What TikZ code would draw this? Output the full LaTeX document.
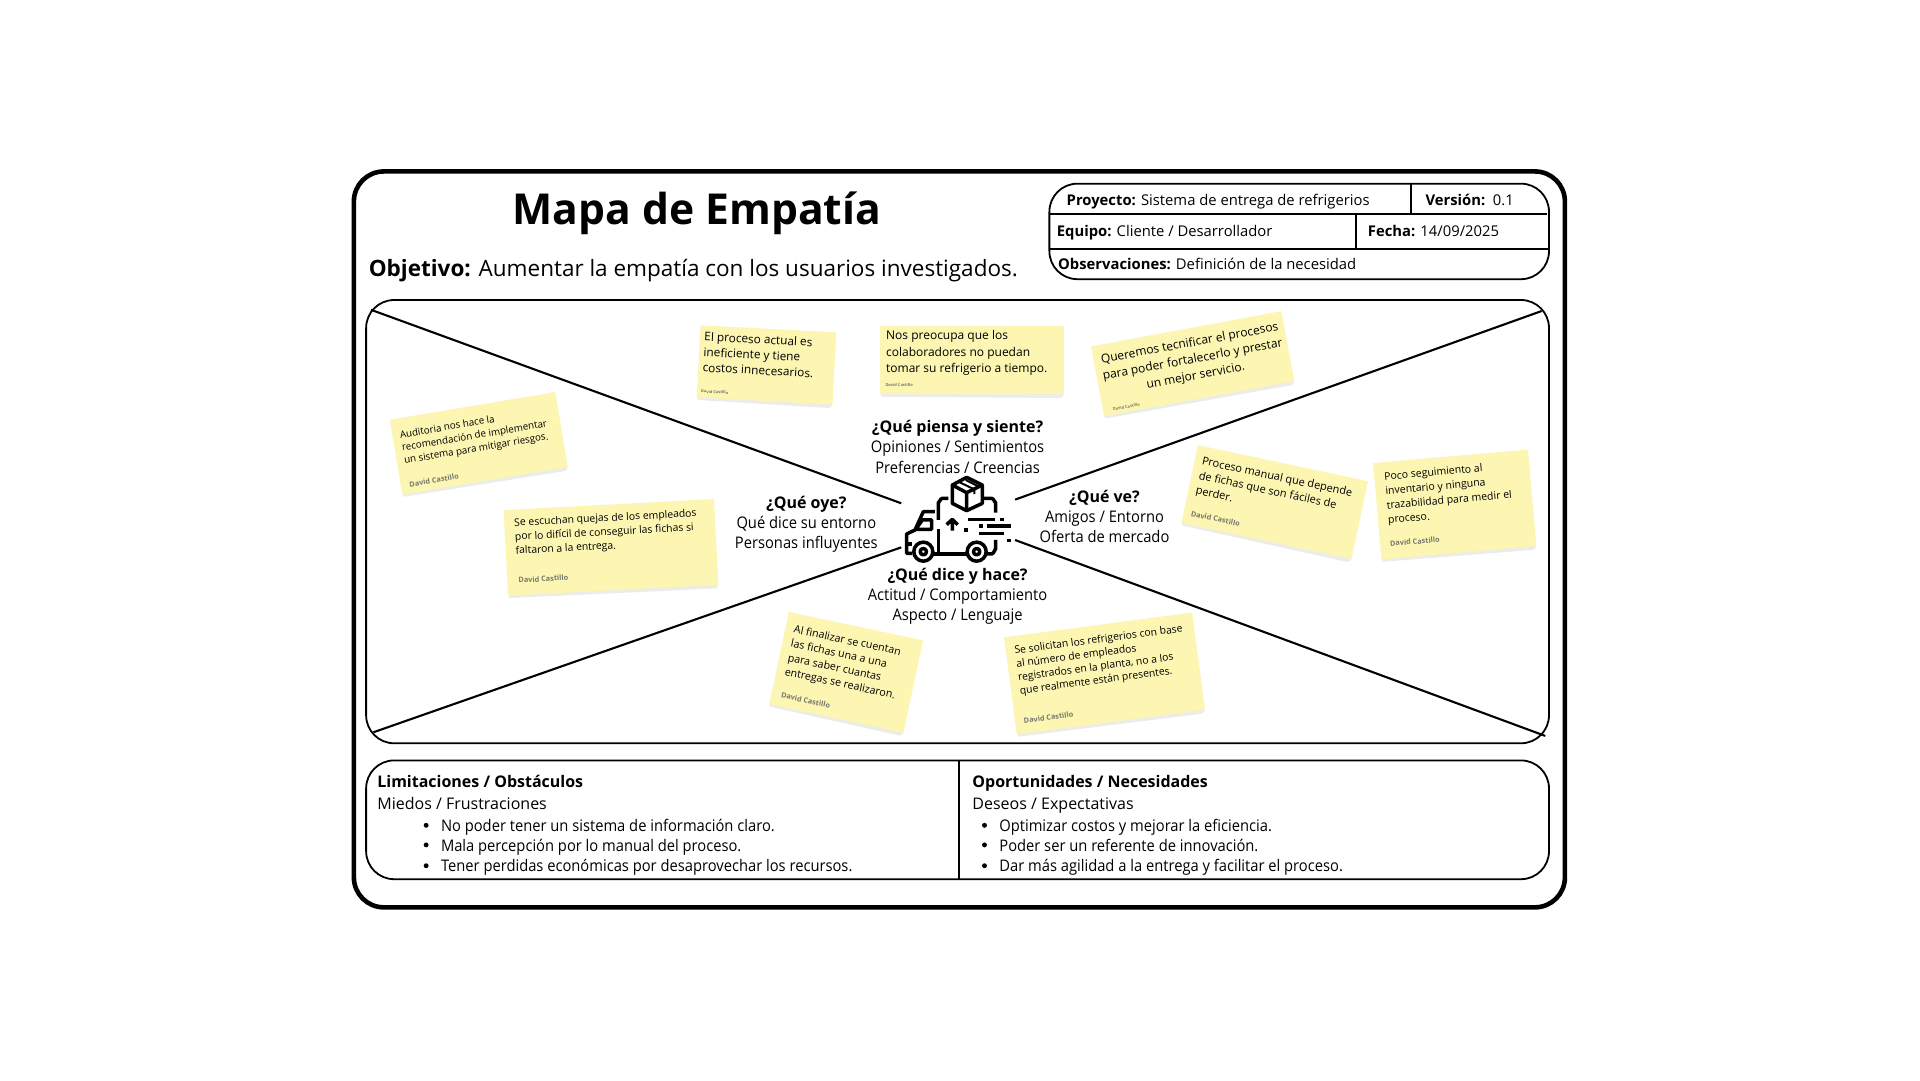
\documentclass[tikz,border=0pt]{standalone}
\usepackage{fontspec}
\setmainfont{Open Sans}
\newfontfamily\cond{Open Sans}[FakeStretch=0.92,BoldFeatures={FakeStretch=1}]
\definecolor{notey}{HTML}{FDF6B2}
\definecolor{noteshadow}{HTML}{ECECE8}
\definecolor{authorgrey}{HTML}{77776F}
\tikzset{
  frame/.style={draw=black,line width=1.8pt,rounded corners=28pt},
  outerframe/.style={draw=black,line width=4.6pt,rounded corners=30pt},
  rule/.style={draw=black,line width=2pt},
  diag/.style={draw=black,line width=2.1pt},
  lab/.style={inner sep=0pt,align=center,font=\cond\fontsize{16}{20.2}\selectfont},
  hd/.style={inner sep=0pt,anchor=base west,font=\fontsize{14.8}{17}\selectfont},
  bt/.style={inner sep=0pt,anchor=base west,font=\fontsize{16}{20}\selectfont},
  bl/.style={inner sep=0pt,anchor=base west,font=\cond\fontsize{16}{20}\selectfont},
  ico/.style={draw=black,line width=3.5pt,line cap=butt,line join=round},
  notetext/.style={inner sep=0pt,anchor=north west,transform shape},
  notecol/.style={fill=notey,draw=none},
}
% name cx cy w h angle tx ty font-size | leading align text ax ay authorsize
\newcommand{\stickynote}[9]{%
  \def\nname{#1}\def\ncx{#2}\def\ncy{#3}\def\nw{#4}\def\nh{#5}\def\nang{#6}\def\ntx{#7}\def\nty{#8}\def\nfs{#9}\stickyrest}
\newcommand{\stickyrest}[6]{%
  \begin{scope}[shift={(\ncx,\ncy)},rotate=\nang]
    \fill[noteshadow] ({-\nw/2},{\nh/2-1}) -- ({\nw/2},{\nh/2-1}) -- ({\nw/2-1},{\nh/2+2}) -- ({\nw/2-3},{\nh/2+3}) -- ({-\nw/2+1},{\nh/2+2}) -- cycle;
    \path[notecol] ({-\nw/2},{-\nh/2}) rectangle ({\nw/2},{\nh/2});
    \node[notetext,align=#2,font=\fontsize{\nfs}{#1}\selectfont] (\nname) at ({-\nw/2+\ntx},{-\nh/2+\nty}) {#3};
    \node[inner sep=0pt,anchor=base west,transform shape,text=authorgrey,font=\fontsize{#6}{#6}\selectfont\bfseries] (\nname a) at ({-\nw/2+#4},{-\nh/2+#5}) {David Castillo};
  \end{scope}}
\begin{document}
\begin{tikzpicture}[x=1.2245pt,y=-1.2245pt]
\useasboundingbox (0,0) rectangle (1568,882);
\fill[white] (0,0) rectangle (1568,882);
% frames
\path[outerframe] (289,140) rectangle (1278,741);
\path[frame] (857,150) rectangle (1265,228);
\path[frame] (299,245) rectangle (1265,607);
\path[frame] (299,621) rectangle (1265,718);
\coordinate (hA) at (857,175); \coordinate (hB) at (1263,175);
\coordinate (hC) at (857,203); \coordinate (hD) at (1265,203);
\coordinate (vA) at (1152,150); \coordinate (vB) at (1152,175);
\coordinate (vC) at (1107,175); \coordinate (vD) at (1107,203);
\coordinate (vE) at (783,621); \coordinate (vF) at (783,719);
\draw[rule] (hA)--(hB); \draw[rule] (hC)--(hD);
\draw[rule] (vA)--(vB); \draw[rule] (vC)--(vD); \draw[rule] (vE)--(vF);
% diagonals
\coordinate (d1) at (303,253); \coordinate (d1e) at (736,411);
\coordinate (d2) at (1259,254); \coordinate (d2e) at (829,408);
\coordinate (d3) at (305,598); \coordinate (d3e) at (736,447);
\coordinate (d4) at (1262,601); \coordinate (d4e) at (829,441);
\draw[diag] (d1)--(d1e); \draw[diag] (d2)--(d2e); \draw[diag] (d3)--(d3e); \draw[diag] (d4)--(d4e);
% title
\node[inner sep=0pt,font=\fontsize{42.6}{48}\selectfont\bfseries] (title) at (569,174) {Mapa de Empatía};
\node[inner sep=0pt,anchor=base west,font=\fontsize{22.5}{27}\selectfont] (obj) at (301,226) {\textbf{Objetivo:} Aumentar la empatía con los usuarios investigados.};
% header
\node[hd] (proy) at (871,168) {\textbf{Proyecto:} Sistema de entrega de refrigerios};
\node[hd] (vers) at (1164,168) {\textbf{Versión:}\ \ 0.1};
\node[hd] (equi) at (863,193) {\textbf{Equipo:} Cliente / Desarrollador};
\node[hd] (fech) at (1117,193) {\textbf{Fecha:} 14/09/2025};
\node[hd] (obse) at (864,220) {\textbf{Observaciones:} Definición de la necesidad};
% quadrant labels
\node[lab] (piensa) at (782,365) {\textbf{¿Qué piensa y siente?}\\Opiniones / Sentimientos\\Preferencias / Creencias};
\node[lab] (oye) at (658.5,428) {\textbf{¿Qué oye?}\\Qué dice su entorno\\Personas influyentes};
\node[lab] (ve) at (902,422) {\textbf{¿Qué ve?}\\Amigos / Entorno\\Oferta de mercado};
\node[lab] (dice) at (782,487) {\textbf{¿Qué dice y hace?}\\Actitud / Comportamiento\\Aspecto / Lenguaje};
% bottom
\node[bt] (lim) at (308,643) {\textbf{Limitaciones / Obstáculos}};
\node[bt] (mie) at (308,661) {Miedos / Frustraciones};
\node[bl] (l1) at (360,679) {No poder tener un sistema de información claro.};
\node[bl] (l2) at (360,695) {Mala percepción por lo manual del proceso.};
\node[bl] (l3) at (360,712) {Tener perdidas económicas por desaprovechar los recursos.};
\node[bt] (op) at (794,643) {\textbf{Oportunidades / Necesidades}};
\node[bt] (des) at (794,661) {Deseos / Expectativas};
\node[bl] (r1) at (816,679) {Optimizar costos y mejorar la eficiencia.};
\node[bl] (r2) at (816,695) {Poder ser un referente de innovación.};
\node[bl] (r3) at (816,712) {Dar más agilidad a la entrega y facilitar el proceso.};
\foreach \yy in {674,690,707}{
  \fill (348,\yy) circle (2);
  \fill (804,\yy) circle (2);
}
% notes
\stickynote{n1}{391}{362}{137}{62}{9.5}{6}{10}{9.8}{13}{left}{Auditoria nos hace la\\recomendación de implementar\\un sistema para mitigar riesgos.}{7}{57}{7.3}
\stickynote{n2}{499}{447}{172}{70}{3}{8}{7}{10.4}{14}{left}{Se escuchan quejas de los empleados\\por lo difícil de conseguir las fichas si\\faltaron a la entrega.}{9}{60}{7.3}
\stickynote{n3}{626}{298}{111}{59}{-3}{3.5}{5}{11.8}{15.5}{left}{El proceso actual es\\ineficiente y tiene\\costos innecesarios.}{3}{55}{4}
\stickynote{n4}{794}{294}{150}{56}{0}{4.5}{4}{12}{16.5}{left}{Nos preocupa que los\\colaboradores no puedan\\tomar su refrigerio a tiempo.}{4}{50}{4}
\stickynote{n5}{974}{297}{158}{58}{10.5}{5}{7.5}{12}{16.5}{center}{Queremos tecnificar el procesos\\para poder fortalecerlo y prestar\\un mejor servicio.}{8}{55}{4}
\stickynote{n6}{1041}{410}{142}{65}{-12}{6}{8}{11}{15}{left}{Proceso manual que depende\\de fichas que son fáciles de\\perder.}{6}{58}{7.3}
\stickynote{n7}{1188}{412}{127}{79}{5}{8}{8}{10.5}{14.5}{left}{Poco seguimiento al\\inventario y ninguna\\trazabilidad para medir el\\proceso.}{8}{69}{7.3}
\stickynote{n8}{691}{549}{112}{77}{-12}{7}{9}{10.7}{14.5}{left}{Al finalizar se cuentan\\las fichas una a una\\para saber cuantas\\entregas se realizaron.}{8}{70}{7.3}
\stickynote{n9}{902}{550}{155}{80}{7.5}{7}{8}{10.4}{13.5}{left}{Se solicitan los refrigerios con base\\al número de empleados\\registrados en la planta, no a los\\que realmente están presentes.}{7}{72}{7.3}
% truck icon
\begin{scope}[x=0.3333pt,y=-0.3333pt,shift={(895pt,-470pt)}]
  \draw[ico] (215,22)--(262,45)--(262,100)--(215,122)--(172,100)--(172,45)--cycle;
  \draw[ico] (172,45)--(215,68)--(262,45) (215,68)--(215,122);
  \draw[ico,line width=2pt] (190,35)--(238,58)--(238,72) (212,30)--(252,50);
  \draw[ico] (130,150)--(130,97) to[out=-90,in=180] (142,85)--(160,85);
  \draw[ico] (262,85)--(290,85) to[out=0,in=-90] (302,97)--(302,128);
  \draw[ico] (130,178)--(130,252) (118,252)--(212,252);
  \draw[ico] (302,210)--(302,238) to[out=90,in=0] (290,252)--(274,252);
  \draw[ico] (120,125)--(85,125)--(60,180)--(35,192)--(35,250)--(52,250);
  \draw[ico] (110,150)--(82,150)--(62,178)--(110,178)--cycle;
  \draw[ico] (35,222)--(50,222);
  \draw[ico] (172,182)--(172,152) (155,164)--(172,148)--(188,164);
  \draw[ico] (220,148)--(300,148) (315,148)--(326,148) (208,180)--(219,180);
  \draw[ico] (252,168)--(263,168) (275,168)--(347,168) (252,190)--(326,190) (337,212)--(348,212);
  \draw[ico,fill=white] (85,245) circle (9.5pt);
  \draw[ico,fill=white] (245,245) circle (9.5pt);
  \draw[ico] (85,245) circle (3.2pt);
  \draw[ico] (245,245) circle (3.2pt);
\end{scope}
\end{tikzpicture}
\end{document}
